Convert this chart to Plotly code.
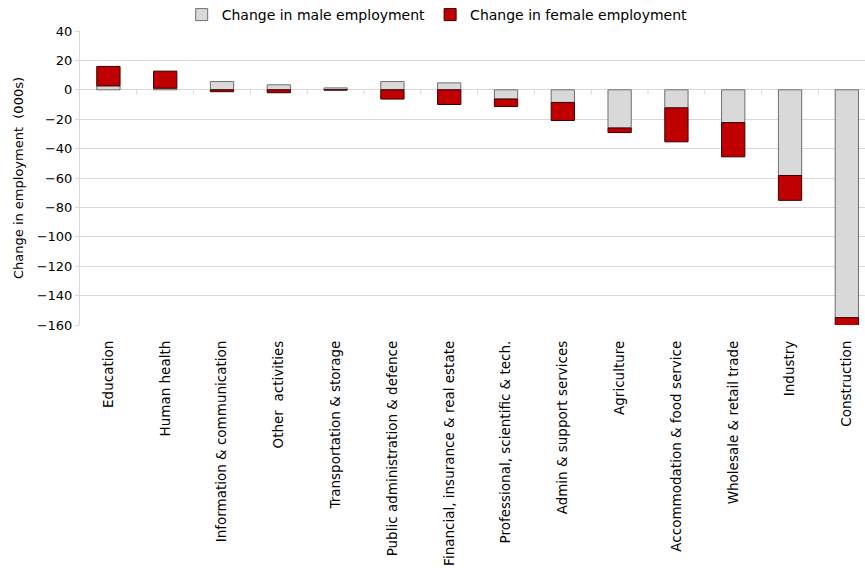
import plotly.graph_objects as go

categories = [
    "Education", "Human health", "Information & communication", "Other  activities",
    "Transportation & storage", "Public administration & defence",
    "Financial, insurance & real estate", "Professional, scientific & tech.",
    "Admin & support services", "Agriculture", "Accommodation & food service",
    "Wholesale & retail trade", "Industry", "Construction",
]
male_change = [2.7, 1.1, 5.6, 3.4, 1.3, 5.6, 4.7, -6.3, -8.6, -26.0, -12.3, -22.3, -58.3, -155.0]
female_change = [13.2, 11.6, -1.3, -2.0, -0.2, -6.3, -10.0, -5.1, -12.3, -3.1, -23.1, -23.3, -16.9, -6.0]

y_ticks = [40, 20, 0, -20, -40, -60, -80, -100, -120, -140, -160]

FONT = "DejaVu Sans"

fig = go.Figure()
fig.add_trace(go.Bar(
    x=categories, y=male_change, name="Change in male employment",
    marker=dict(color="#d9d9d9", line=dict(color="#6f6f6f", width=1)),
    width=0.41,
))
fig.add_trace(go.Bar(
    x=categories, y=female_change, name="Change in female employment",
    marker=dict(color="#c00000", line=dict(color="#3a0000", width=1)),
    width=0.41,
))

# small category-separator ticks on the zero line (as in the original axis)
for i in range(len(categories)):
    fig.add_shape(type="line", xref="x", yref="y", x0=i + 0.5, x1=i + 0.5,
                  y0=0, y1=-3.4, line=dict(color="#d9d9d9", width=1), layer="below")

fig.update_layout(
    barmode="relative",
    width=865, height=584,
    margin=dict(l=80, r=0, t=31, b=259, autoexpand=False),
    paper_bgcolor="white", plot_bgcolor="white",
    font=dict(family=FONT, size=13, color="#000000"),
    showlegend=True,
    legend=dict(
        orientation="h", x=0.455, xanchor="center", y=1.0, yanchor="bottom",
        font=dict(family=FONT, size=14), itemwidth=30,
        traceorder="normal", bgcolor="rgba(0,0,0,0)",
    ),
    xaxis=dict(
        range=[-0.5, 13.32],
        tickangle=-90, showgrid=False, showline=False, ticks="",
        tickfont=dict(family=FONT, size=13.5), ticklabelstandoff=12,
    ),
    yaxis=dict(
        range=[-160, 40], tickvals=y_ticks, showgrid=True, gridcolor="#d9d9d9",
        gridwidth=1, zeroline=True, zerolinecolor="#d9d9d9", zerolinewidth=1,
        showline=True, linecolor="#d9d9d9", linewidth=1,
        ticks="outside", ticklen=4, tickcolor="#d9d9d9",
        tickfont=dict(family=FONT, size=13),
        title=dict(text="Change in employment  (000s)", font=dict(family=FONT, size=13), standoff=10),
    ),
)

fig.write_html("out.html", config={"displayModeBar": False},
               post_script="document.body.style.margin='0';")
